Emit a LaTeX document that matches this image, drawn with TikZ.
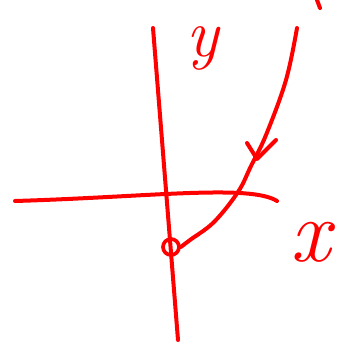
\documentclass[tikz,border=0pt]{standalone}
\begin{document}
\begin{tikzpicture}[x=0.03cm,y=-0.03cm]
    \useasboundingbox (0,0) rectangle (343,344);
    
    \draw[red, line width=1.2mm, line cap=round] (153,28) -- (178,340);
    \draw[red, line width=1.2mm, line cap=round] (15,201) .. controls (150,197) and (250,184) .. (277,201);
    
    \node[draw=red, circle, line width=1.1mm, inner sep=0pt, minimum size=0.48cm] (start) at (171,247) {};
    \draw[red, line width=1.2mm, line cap=round] plot[smooth, tension=0.6] coordinates {(297,28) (286,80) (266,135) (251,166) (238,192) (214,222) (190,240) (start.east)};
    \draw[red, line width=1.2mm, line cap=round, line join=round] (247,143) -- (257,159) -- (276,140);
    \draw[red, line width=1.2mm, line cap=round] (317,0) -- (320,8);
    
    \node[red, inner sep=0pt] (ylab) at (203,48) {\fontsize{58}{58}\selectfont\itshape y};
    \node[red, inner sep=0pt] (xlab) at (311,242) {\fontsize{76}{76}\selectfont\itshape x};
\end{tikzpicture}
\end{document}
